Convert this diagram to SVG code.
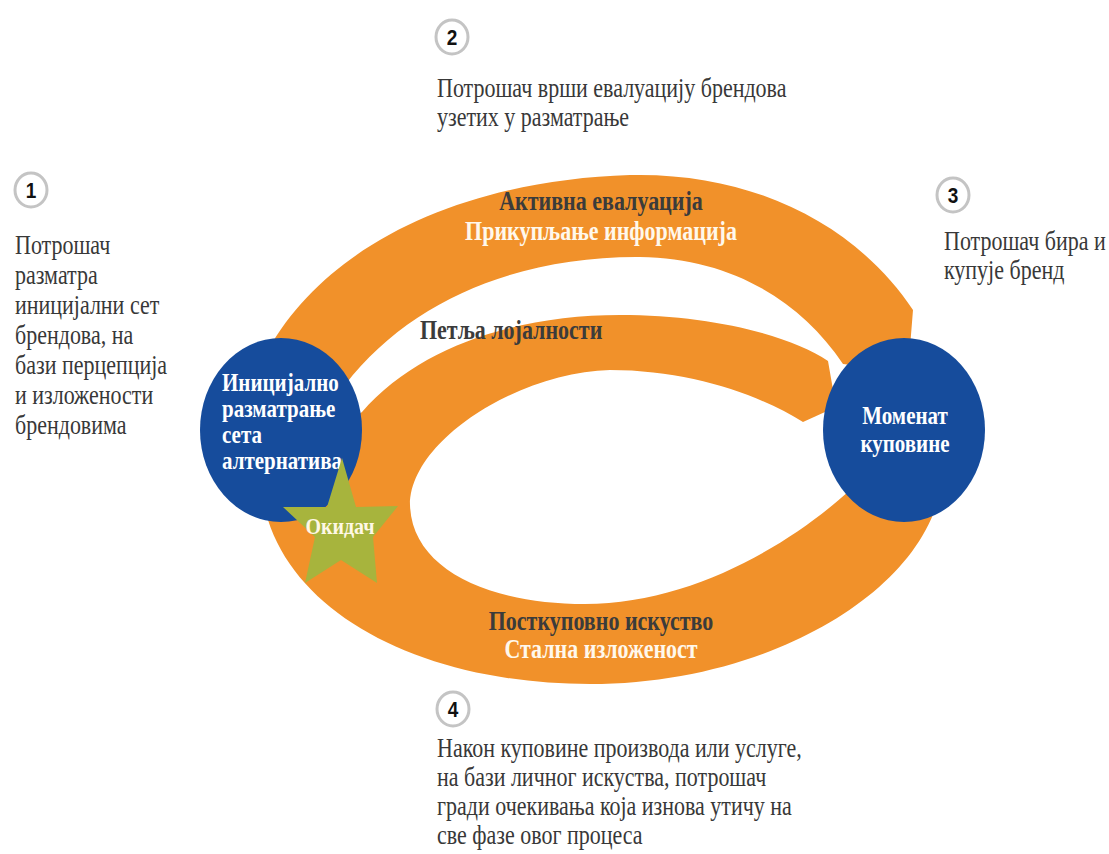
<svg xmlns="http://www.w3.org/2000/svg" width="1109" height="854" viewBox="0 0 1109 854">
  <defs>
    <style>
      .band{fill:#F1912A}
      .hub{fill:#164C9C}
      .hub-label{font-family:"Liberation Serif",serif;font-weight:bold;font-size:21px;fill:#ffffff}
      .band-dark{font-family:"Liberation Serif",serif;font-weight:bold;font-size:22px;fill:#3b3b3b}
      .band-light{font-family:"Liberation Serif",serif;font-weight:bold;font-size:22px;fill:#FFF8EC}
      .desc{font-family:"Liberation Serif",serif;font-size:22px;fill:#383838}
      .badge-ring{fill:#ffffff;stroke:#c4c4c4;stroke-width:3}
      .badge-num{font-family:"Liberation Sans",sans-serif;font-weight:bold;font-size:19px;fill:#111111}
      .mid{text-anchor:middle}
    </style>
  </defs>

  <rect width="1109" height="854" fill="#ffffff"/>

  <!-- orange loop bands -->
  <g id="connectors">
    <path id="arc-evaluation" class="band" d="M268,350 C330,240 470,180 630,175 C760,172 860,230 913,310 L908,372 L843,364 C800,300 730,258 640,257 C520,256 410,300 345,385 Z"/>
    <path id="arc-loyalty" class="band" d="M938,500 C910,600 760,684 590,684 C430,684 300,620 268,520 L300,455 L362,412 C420,345 520,315 620,315 C710,315 790,335 828,361 L836,407 L803,422 C760,395 690,370 610,370 C520,372 410,440 410,505 C412,570 490,604 585,604 C690,604 790,545 850,490 L900,460 Z"/>
    <text class="band-dark mid" transform="translate(601,210) scale(1,1.2)">Активна евалуација</text>
    <text class="band-light mid" transform="translate(601,240) scale(1,1.2)">Прикупљање информација</text>
    <text class="band-dark" transform="translate(420,339) scale(1,1.2)">Петља лојалности</text>
    <text class="band-dark mid" transform="translate(601,630) scale(1,1.2)">Посткуповно искуство</text>
    <text class="band-light mid" transform="translate(601,658) scale(1,1.2)">Стална изложеност</text>
  </g>

  <g id="node-initial">
    <ellipse class="hub" cx="281" cy="430" rx="81" ry="92"/>
    <text class="hub-label" transform="translate(222,391) scale(1,1.2)">Иницијално</text>
    <text class="hub-label" transform="translate(222,417) scale(1,1.2)">разматрање</text>
    <text class="hub-label" transform="translate(222,443) scale(1,1.2)">сета</text>
    <text class="hub-label" transform="translate(222,469) scale(1,1.2)">алтернатива</text>
  </g>

  <g id="node-purchase">
    <ellipse class="hub" cx="904" cy="430" rx="81" ry="92"/>
    <text class="hub-label mid" transform="translate(905,424) scale(1,1.2)">Моменат</text>
    <text class="hub-label mid" transform="translate(905,452) scale(1,1.2)">куповине</text>
  </g>

  <g id="node-trigger">
    <polygon fill="#A7B43D" points="342,458 356,507 398,506 373,537 377,583 341,560 305,583 315,537 283,507 327,507"/>
    <text class="hub-label mid" style="fill:#FFF8E6;font-size:20px" transform="translate(340,534) scale(1,1.2)">Окидач</text>
  </g>

  <g id="step-1">
    <ellipse class="badge-ring" cx="31" cy="190" rx="16" ry="17"/>
    <text class="badge-num mid" transform="translate(31,198) scale(1,1.2)">1</text>
    <text class="desc" transform="translate(15,254) scale(1,1.2)">Потрошач</text>
    <text class="desc" transform="translate(15,284) scale(1,1.2)">разматра</text>
    <text class="desc" transform="translate(15,314) scale(1,1.2)">иницијални сет</text>
    <text class="desc" transform="translate(15,344) scale(1,1.2)">брендова, на</text>
    <text class="desc" transform="translate(15,374) scale(1,1.2)">бази перцепција</text>
    <text class="desc" transform="translate(15,404) scale(1,1.2)">и изложености</text>
    <text class="desc" transform="translate(15,434) scale(1,1.2)">брендовима</text>
  </g>

  <g id="step-2">
    <ellipse class="badge-ring" cx="452" cy="37" rx="16" ry="17"/>
    <text class="badge-num mid" transform="translate(452,45) scale(1,1.2)">2</text>
    <text class="desc" transform="translate(437,97) scale(1,1.2)">Потрошач врши евалуацију брендова</text>
    <text class="desc" transform="translate(437,126) scale(1,1.2)">узетих у разматрање</text>
  </g>

  <g id="step-3">
    <ellipse class="badge-ring" cx="953" cy="195" rx="16" ry="17"/>
    <text class="badge-num mid" transform="translate(953,203) scale(1,1.2)">3</text>
    <text class="desc" transform="translate(944,250) scale(1,1.2)">Потрошач бира и</text>
    <text class="desc" transform="translate(944,279) scale(1,1.2)">купује бренд</text>
  </g>

  <g id="step-4">
    <ellipse class="badge-ring" cx="453" cy="709" rx="16" ry="17"/>
    <text class="badge-num mid" transform="translate(453,717) scale(1,1.2)">4</text>
    <text class="desc" transform="translate(437,757) scale(1,1.2)">Након куповине производа или услуге,</text>
    <text class="desc" transform="translate(437,786) scale(1,1.2)">на бази личног искуства, потрошач</text>
    <text class="desc" transform="translate(437,815) scale(1,1.2)">гради очекивања која изнова утичу на</text>
    <text class="desc" transform="translate(437,844) scale(1,1.2)">све фазе овог процеса</text>
  </g>
</svg>
